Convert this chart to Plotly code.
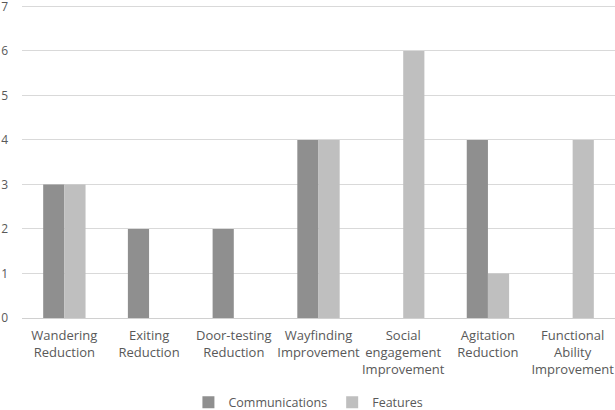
import plotly.graph_objects as go

categories = ["Wandering<br>Reduction", "Exiting<br>Reduction", "Door-testing<br>Reduction",
              "Wayfinding<br>Improvement", "Social<br>engagement<br>Improvement",
              "Agitation<br>Reduction", "Functional<br>Ability<br>Improvement"]
communications = [3, 2, 2, 4, 0, 4, 0]
features = [3, 0, 0, 4, 6, 1, 4]

fig = go.Figure()
fig.add_trace(go.Bar(x=categories, y=communications, name="Communications",
                     marker=dict(color="#8f8f8f", line=dict(width=0))))
fig.add_trace(go.Bar(x=categories, y=features, name="Features",
                     marker=dict(color="#bfbfbf", line=dict(width=0))))

fig.update_layout(
    width=615, height=410,
    margin=dict(l=22, r=0, t=2, b=92, autoexpand=False),
    paper_bgcolor="white", plot_bgcolor="white",
    barmode="group", bargap=0.5, bargroupgap=0,
    font=dict(family="Open Sans, sans-serif", size=13, color="#595959"),
    yaxis=dict(range=[0, 7.1], tickvals=[0, 1, 2, 3, 4, 5, 6, 7], showgrid=True,
               gridcolor="#d9d9d9", gridwidth=1,
               zeroline=True, zerolinecolor="#d0d0d0", zerolinewidth=1,
               tickfont=dict(size=12), ticklabelstandoff=13, ticklabeloverflow="allow",
               automargin=False, fixedrange=True),
    xaxis=dict(showgrid=False, tickfont=dict(size=13), ticks="", tickangle=0,
               ticklabelstandoff=8, automargin=False, fixedrange=True),
    legend=dict(orientation="h", x=0.483, xanchor="center", y=-0.268, yanchor="middle",
                font=dict(size=12.5), itemwidth=30, traceorder="normal"),
    showlegend=True,
)

fig.write_html("out.html", config={"displayModeBar": False},
               post_script="document.body.style.margin='0';document.body.style.overflow='hidden';")
